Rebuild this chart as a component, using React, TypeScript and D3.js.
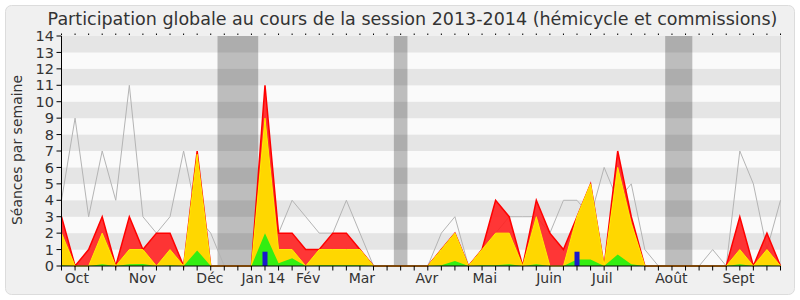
import React from "react";
import * as d3 from "d3";

// Weekly values, session 2013-2014 (week index 0..53)
const totalTop = [3,0,1,3,0,3,1,2,2,0,7,0,0,0,0,11,2,2,1,1,2,2,1,0,0,0,0,0,1,2,0,1,4,3,0,4,2,1,3,5,0,7,3,0,0,0,0,0,0,0,3,0,2,0];
const hemicycleTop = [2,0,0,2,0,1,1,0,1,0,6.8,0,0,0,0,9,1,1,0,1,1,1,1,0,0,0,0,0,1,2,0,1,2,2,0,3,0,0,3,5,0,6,2.6,0,0,0,0,0,0,0,1,0,1,0];
const greenTop = [0.05,0,0,0.1,0,0.1,0.12,0,0.05,0,0.95,0,0,0,0,2,0.16,0.47,0,0.05,0.05,0.05,0.05,0,0,0,0,0,0.05,0.3,0,0.05,0.05,0.1,0,0.1,0,0,0.4,0.4,0,0.7,0.1,0,0,0,0,0,0,0,0.1,0,0.05,0];
const medianLine = [4,9,3,7,4,11,3,2,3,7,3,2,0,0,0,9,2,4,3,2,2,4,2,0,0,0,0,0,2,3,0,1,2,3,3,3,2,4,4,3,6,4,5,1,0,0,0,0,1,0,7,5,1,4];
const blueWeeks = [15, 38];
const blueValues = [0.87, 0.87];
const vacationStart = [11.5, 24.5, 44.5];
const vacationEnd = [14.5, 25.5, 46.5];
const monthLabels = ["Oct","Nov","Déc","Jan 14","Fév","Mar","Avr","Mai","Juin","Juil","Août","Sept"];
const monthPos = [1.13,5.96,10.94,14.88,18.18,22.14,26.93,31.2,35.94,39.86,44.96,49.9];
const yTicks = d3.range(0, 15);

const W = 800, H = 300;
const font = "DejaVu Sans, sans-serif";

export default function App() {
  const n = totalTop.length;
  const x = d3.scaleLinear().domain([0, n - 1]).range([61.5, 780.5]);
  const y = d3.scaleLinear().domain([0, 14]).range([266, 36]);
  const idx = d3.range(n);

  const area = (vals: number[]) =>
    d3.area<number>().x((i) => x(i)).y0(y(0)).y1((i) => y(vals[i]))(idx) || "";
  const line = (vals: number[]) =>
    d3.line<number>().x((i) => x(i)).y((i) => y(vals[i]))(idx) || "";

  return (
    <svg width={W} height={H} style={{ position: "absolute", left: 0, top: 0 }} fontFamily={font}>
      <rect x={5.5} y={5.5} width={789} height={289} rx={6} fill="#f0f0f0" stroke="#dcdcdc" />
      <text x={412.5} y={25} textAnchor="middle" fontSize={17.5} fill="#333">
        Participation globale au cours de la session 2013-2014 (hémicycle et commissions)
      </text>
      {yTicks.slice(0, 14).map((k) => (
        <rect key={"s" + k} x={x(0)} y={y(k + 1)} width={x(n - 1) - x(0)} height={y(k) - y(k + 1)}
          fill={k % 2 === 1 ? "#e5e5e5" : "#fafafa"} />
      ))}
      {vacationStart.map((s, j) => (
        <rect key={"v" + j} x={x(s)} y={y(14)} width={x(vacationEnd[j]) - x(s)} height={y(0) - y(14)}
          fill="#000" fillOpacity={0.245} />
      ))}
      <line x1={x(n - 1)} x2={x(n - 1)} y1={y(14)} y2={y(0)} stroke="#cfcfcf" />
      <path d={line(medianLine)} fill="none" stroke="#b4b4b4" strokeWidth={1} />
      <path d={area(totalTop)} fill="#ff2020" fillOpacity={0.9} />
      <path d={line(totalTop)} fill="none" stroke="#ff0000" strokeWidth={1.5} />
      <path d={area(hemicycleTop)} fill="#ffd700" />
      <path d={line(hemicycleTop)} fill="none" stroke="#ffee00" strokeWidth={1} />
      <path d={area(greenTop)} fill="#33ee11" />
      {blueWeeks.map((w, j) => (
        <rect key={"b" + j} x={x(w) - 2.5} y={y(blueValues[j])} width={5} height={y(0) - y(blueValues[j])} fill="#1a1acc" />
      ))}
      {/* axes */}
      <line x1={x(0)} x2={x(0)} y1={y(14)} y2={y(0)} stroke="#000" />
      <line x1={x(0)} x2={x(n - 1)} y1={y(0)} y2={y(0)} stroke="#000" />
      {yTicks.map((t) => (
        <g key={"yt" + t}>
          <line x1={x(0) - 5} x2={x(0)} y1={y(t)} y2={y(t)} stroke="#000" />
          <text x={x(0) - 7.5} y={y(t) + 5.2} textAnchor="end" fontSize={14.5} fill="#333">{t}</text>
        </g>
      ))}
      {idx.map((i) => (
        <g key={"xt" + i}>
          <line x1={x(i)} x2={x(i)} y1={y(0)} y2={y(0) + 4.5} stroke="#000" />
          <line x1={x(i)} x2={x(i)} y1={y(14) - 2.5} y2={y(14) - 1} stroke="#000" />
        </g>
      ))}
      {monthLabels.map((m, j) => (
        <text key={"m" + j} x={x(monthPos[j])} y={283} textAnchor="middle" fontSize={14} fill="#333">{m}</text>
      ))}
      <text transform={`translate(22,${150}) rotate(-90)`} textAnchor="middle" fontSize={14} fill="#333">
        Séances par semaine
      </text>
    </svg>
  );
}
